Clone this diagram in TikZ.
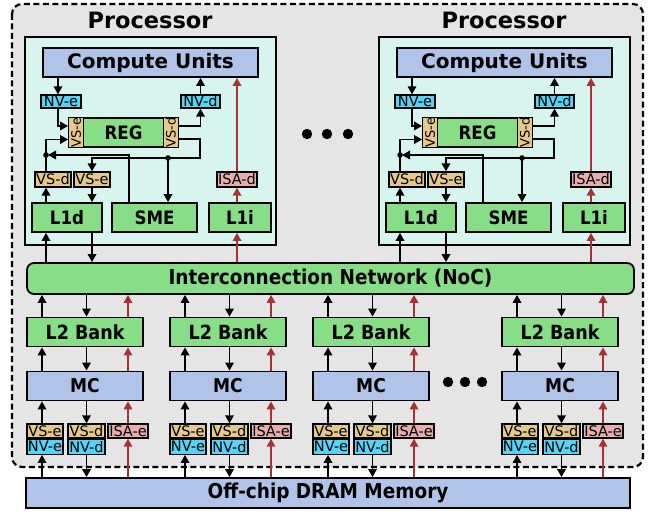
\documentclass[tikz,border=0pt]{standalone}
\usepackage{fontspec}
\setmainfont{DejaVu Sans}
\newfontfamily\condf{DejaVu Sans Condensed}
\usetikzlibrary{calc,arrows.meta}
\definecolor{chipgray}{HTML}{E5E5E5}
\definecolor{procbg}{HTML}{D7F4EE}
\definecolor{unitblue}{HTML}{AFC4E8}
\definecolor{unitgreen}{HTML}{87DE87}
\definecolor{vstan}{HTML}{E6C98A}
\definecolor{nvcyan}{HTML}{55D4F5}
\definecolor{isapink}{HTML}{E8AEAE}
\definecolor{isared}{HTML}{A83232}
\tikzset{
	unit/.style={draw, line width=1.8pt, inner sep=0pt, minimum height=29},
	greenunit/.style={unit, fill=unitgreen, font=\condf\bfseries\fontsize{18.5}{18.5}\selectfont},
	blueunit/.style={unit, fill=unitblue, font=\condf\bfseries\fontsize{19}{19}\selectfont},
	tag/.style={draw, line width=1.3pt, inner sep=0pt, minimum height=14, font=\fontsize{14.5}{14.5}\selectfont},
	vstag/.style={tag, fill=vstan},
	nvtag/.style={tag, fill=nvcyan},
	isatag/.style={tag, fill=isapink},
	arr/.style={-{Triangle[length=8pt,width=8.5pt]}, line width=1.7pt},
	isaarr/.style={arr, draw=isared, fill=isared},
}
% one processor: #1 = left x, #2 = name suffix
\def\processor#1#2{
	\draw[fill=procbg, line width=2.5pt] (#1,37) rectangle (#1+251,245);
	\node[font=\bfseries\fontsize{22.5}{22.5}\selectfont] (title#2) at (#1+125,20) {Processor};
	\node[blueunit, minimum width=215, font=\bfseries\fontsize{20}{20}\selectfont] (cu#2) at (#1+125.5,62.5) {Compute Units};
	\node[nvtag, minimum width=40, minimum height=13] (nve#2) at (#1+36,101.5) {NV-e};
	\node[nvtag, minimum width=39, minimum height=13] (nvd#2) at (#1+175.5,101.5) {NV-d};
	\node[greenunit, minimum width=109] (reg#2) at (#1+98.5,132.5) {REG};
	\node[vstag, rotate=90, minimum width=29, minimum height=15, anchor=north, font=\fontsize{13}{13}\selectfont] (rvse#2) at (reg#2.west) {VS-e};
	\node[vstag, rotate=90, minimum width=29, minimum height=15, anchor=south, font=\fontsize{13}{13}\selectfont] (rvsd#2) at (reg#2.east) {VS-d};
	\node[vstag, minimum width=36, minimum height=15] (vsd#2) at (#1+28,179.5) {VS-d};
	\node[vstag, minimum width=36, minimum height=15] (vse#2) at (#1+67,179.5) {VS-e};
	\node[isatag, minimum width=40, minimum height=15] (isad#2) at (#1+212,179.5) {ISA-d};
	\node[greenunit, minimum width=70] (l1d#2) at (#1+42,217.5) {L1d};
	\node[greenunit, minimum width=85] (sme#2) at (#1+129.5,217.5) {SME};
	\node[greenunit, minimum width=62] (l1i#2) at (#1+215,217.5) {L1i};
	\coordinate (rn#2) at (#1+33,126);
	\coordinate (rl#2) at (#1+21,155);
	\coordinate (rs#2) at (#1+104,155);
	\coordinate (rd#2) at (#1+143,158);
	\coordinate (rb#2) at (#1+175,158);
	\draw[arr] (cu#2.south -| rn#2) -- (nve#2.north -| rn#2);
	\draw[arr] (nve#2.south -| rn#2) |- (reg#2.west |- rn#2);
	\draw[arr] (reg#2.east |- rn#2) -| (nvd#2.south);
	\draw[arr] (nvd#2.north) -- (cu#2.south -| nvd#2);
	\draw[arr] ($(reg#2.east)+(0,6.5)$) -| (rb#2) -| (vse#2.north);
	\draw[arr] (rd#2) -- (sme#2.north -| rd#2);
	\draw[arr, shorten >=2pt] (sme#2.north -| rs#2) |- (rl#2);
	\draw[arr] (vsd#2.north -| rl#2) |- ($(reg#2.west)+(0,7)$);
	\fill (rd#2) circle (2.8pt);
	\fill (rl#2) circle (2.8pt);
	\draw[arr] (l1d#2.north -| rl#2) -- (vsd#2.south -| rl#2);
	\draw[arr] (vse#2.south) -- (l1d#2.north -| vse#2);
	\draw[isaarr] (l1i#2.north -| isad#2) -- (isad#2.south);
	\draw[isaarr] (isad#2.north) -- (cu#2.south -| isad#2);
	\draw[arr] (noc.north -| rl#2) -- (l1d#2.south -| rl#2);
	\draw[arr] (l1d#2.south -| vse#2) -- (noc.north -| vse#2);
	\draw[isaarr] (noc.north -| isad#2) -- (l1i#2.south -| isad#2);
}
% one memory channel: #1 = left x, #2 = name suffix
\def\memcol#1#2{
	\node[greenunit, minimum width=116, font=\condf\bfseries\fontsize{19.5}{19.5}\selectfont] (l2#2) at (#1+58,332) {L2 Bank};
	\node[blueunit, minimum width=116] (mc#2) at (#1+58,386) {MC};
	\node[vstag, minimum width=36] (cvse#2) at (#1+18,431) {VS-e};
	\node[nvtag, minimum width=36, minimum height=15, anchor=north] (cnve#2) at (cvse#2.south) {NV-e};
	\node[vstag, minimum width=37] (cvsd#2) at (#1+59.5,431) {VS-d};
	\node[nvtag, minimum width=37, minimum height=15, anchor=north] (cnvd#2) at (cvsd#2.south) {NV-d};
	\node[isatag, minimum width=40] (cisa#2) at (#1+101,431) {ISA-e};
	\coordinate (up#2) at (#1+15,0);
	\draw[arr] (l2#2.north -| up#2) -- (noc.south -| up#2);
	\draw[arr] (noc.south -| cvsd#2) -- (l2#2.north -| cvsd#2);
	\draw[isaarr] (l2#2.north -| cisa#2) -- (noc.south -| cisa#2);
	\draw[arr] (mc#2.north -| up#2) -- (l2#2.south -| up#2);
	\draw[arr] (l2#2.south -| cvsd#2) -- (mc#2.north -| cvsd#2);
	\draw[isaarr] (mc#2.north -| cisa#2) -- (l2#2.south -| cisa#2);
	\draw[arr] (cvse#2.north -| up#2) -- (mc#2.south -| up#2);
	\draw[arr] (mc#2.south -| cvsd#2) -- (cvsd#2.north);
	\draw[isaarr] (cisa#2.north) -- (mc#2.south -| cisa#2);
	\draw[arr] (dram.north -| up#2) -- (cnve#2.south -| up#2);
	\draw[arr] (cnvd#2.south) -- (dram.north -| cnvd#2);
	\draw[isaarr] (dram.north -| cisa#2) -- (cisa#2.south);
}

\begin{document}
\begin{tikzpicture}[x=1pt, y=-1pt]
	%%%%% START %%%%%
	\useasboundingbox (0,0) rectangle (653,513);
	
	\draw[fill=chipgray, line width=2.2pt, dash pattern=on 6pt off 3.5pt, rounded corners=10] (12,4) rectangle (643,467);
	
	\node[greenunit, rounded corners=7, minimum width=607, minimum height=31, font=\condf\bfseries\fontsize{20.5}{20.5}\selectfont] (noc) at (330.5,278.5) {Interconnection Network (NoC)};
	\node[blueunit, minimum width=604, minimum height=30, font=\condf\bfseries\fontsize{20.5}{20.5}\selectfont] (dram) at (328,493) {Off-chip DRAM Memory};
	
	\processor{25}{a}
	\processor{379}{b}
	
	\fill (307,134) circle (5.2pt);
	\fill (327,134) circle (5.2pt);
	\fill (348,134) circle (5.2pt);
	
	\memcol{27}{a}
	\memcol{170}{b}
	\memcol{313}{c}
	\memcol{502}{d}
	
	\fill (448,382) circle (5.2pt);
	\fill (465,382) circle (5.2pt);
	\fill (482,382) circle (5.2pt);
	%%%%% END %%%%%
\end{tikzpicture}
\end{document}
